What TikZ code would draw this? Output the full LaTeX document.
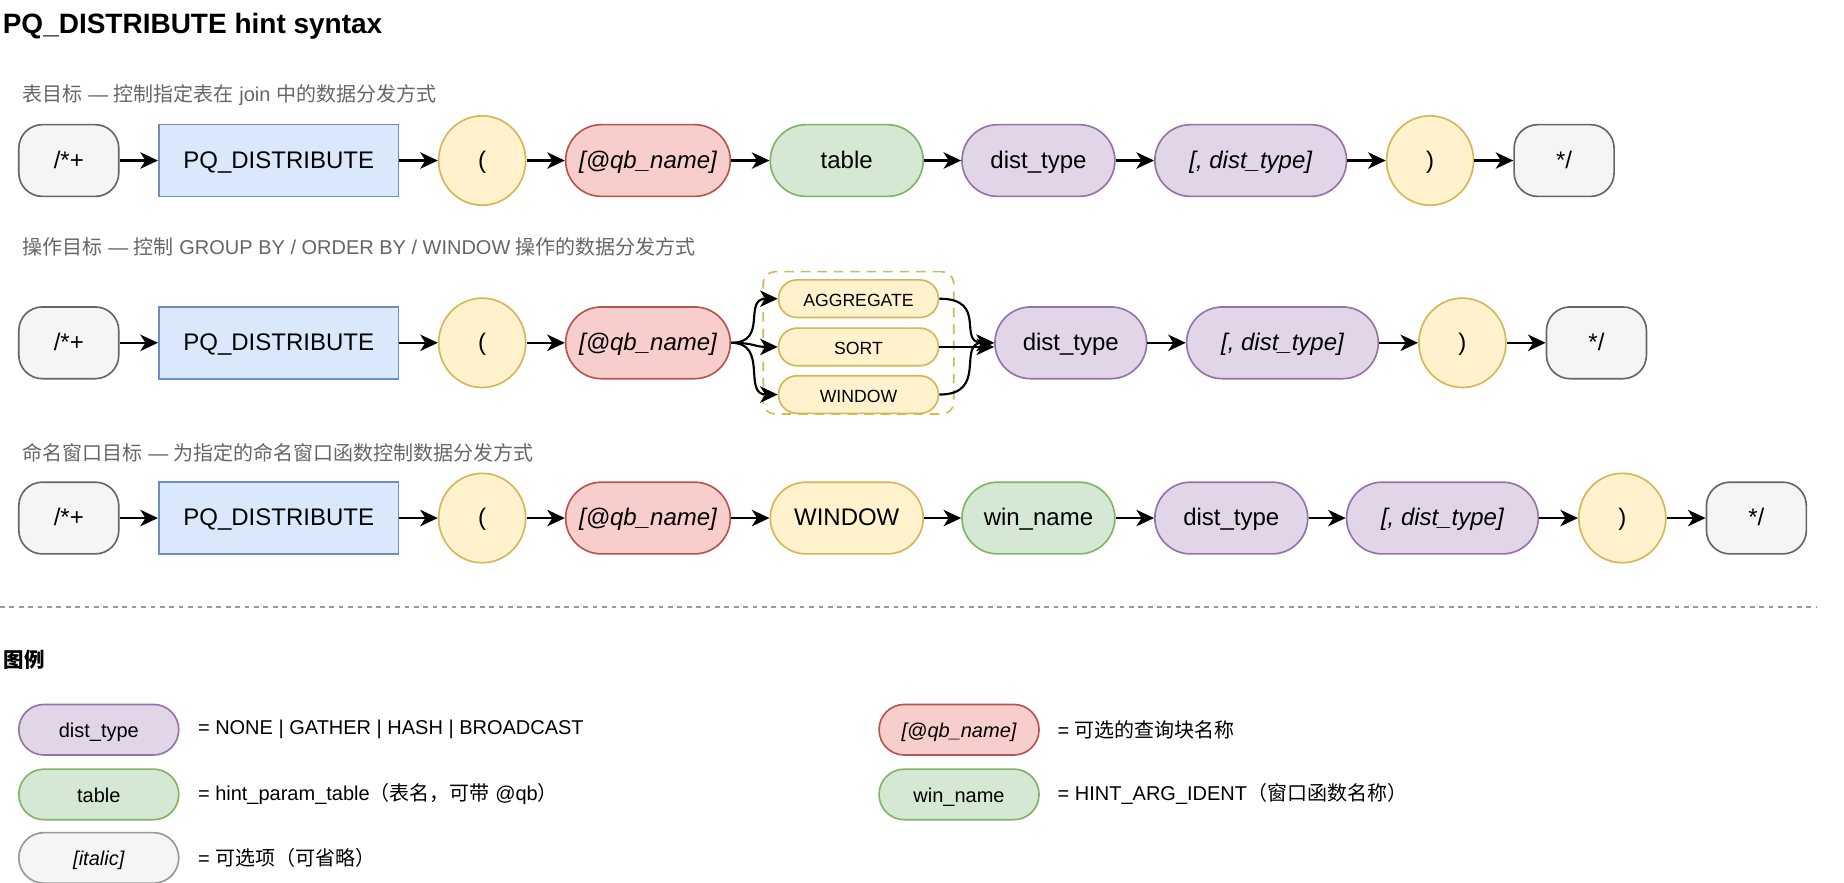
\documentclass[tikz,border=0pt]{standalone}
\usepackage{fontspec}
\setmainfont{Liberation Sans}
\newfontfamily\cjk{Noto Sans CJK SC}
\usetikzlibrary{arrows.meta,shapes.geometric}
\definecolor{grayF}{HTML}{F5F5F5}
\definecolor{grayS}{HTML}{666666}
\definecolor{lgrayS}{HTML}{999999}
\definecolor{blueF}{HTML}{DAE8FC}
\definecolor{blueS}{HTML}{6C8EBF}
\definecolor{yellowF}{HTML}{FFF2CC}
\definecolor{yellowS}{HTML}{D6B656}
\definecolor{redF}{HTML}{F8CECC}
\definecolor{redS}{HTML}{B85450}
\definecolor{greenF}{HTML}{D5E8D4}
\definecolor{greenS}{HTML}{82B366}
\definecolor{purpleF}{HTML}{E1D5E7}
\definecolor{purpleS}{HTML}{9673A6}
\definecolor{subgray}{HTML}{666666}
\definecolor{sepgray}{HTML}{999999}
\begin{document}
\begin{tikzpicture}[x=0.5pt,y=-0.5pt,
  box/.style={draw, line width=0.7pt, inner sep=0pt, minimum height=30.5pt, font=\fontsize{10.2}{12}\selectfont, text height=0.72em, text depth=0.05em},
  startbox/.style={box, fill=grayF, draw=grayS, rounded corners=10pt, minimum width=42.5pt},
  kwbox/.style={box, fill=blueF, draw=blueS, minimum width=102pt},
  paren/.style={ellipse, draw=yellowS, fill=yellowF, line width=0.7pt, minimum width=37pt, minimum height=38pt, inner sep=0pt, font=\fontsize{10.2}{12}\selectfont, text height=0.72em, text depth=0.05em},
  pill/.style={box, rounded corners=15.2pt},
  qbpill/.style={pill, fill=redF, draw=redS, minimum width=70pt, font=\fontsize{10.2}{12}\selectfont\itshape},
  greenpill/.style={pill, fill=greenF, draw=greenS, minimum width=65pt},
  purplepill/.style={pill, fill=purpleF, draw=purpleS, minimum width=65pt},
  optpill/.style={pill, fill=purpleF, draw=purpleS, minimum width=81.5pt, font=\fontsize{10.2}{12}\selectfont\itshape},
  yellowpill/.style={pill, fill=yellowF, draw=yellowS, minimum width=65pt},
  opbox/.style={draw=yellowS, fill=yellowF, line width=0.7pt, inner sep=0pt, minimum width=68pt, minimum height=16pt, rounded corners=7.9pt, font=\fontsize{7.5}{9}\selectfont, text height=0.72em, text depth=0.05em},
  groupbox/.style={draw=yellowS, dashed, dash pattern=on 4pt off 3pt, line width=0.7pt, rounded corners=5pt, minimum width=81pt, minimum height=60.5pt, inner sep=0pt},
  arr/.style={-{Stealth[length=7.5pt,width=7pt,inset=2.2pt]}, line width=0.9pt},
  subtitle/.style={anchor=west, inner sep=0pt, text=subgray, font=\fontsize{8.5}{10}\selectfont},
  legpill/.style={draw, line width=0.7pt, inner sep=0pt, minimum width=68pt, minimum height=21.5pt, rounded corners=10.7pt, font=\fontsize{8.5}{10}\selectfont, text height=0.72em, text depth=0.05em},
  leglabel/.style={anchor=west, inner sep=0pt, font=\fontsize{8.5}{10}\selectfont},
  sepline/.style={draw=sepgray, line width=0.6pt, dash pattern=on 2pt off 2pt}
]
\fill[white] (0,0) rectangle (1568,750);
\useasboundingbox (0,0) rectangle (1568,750);

% title
\node[anchor=west, inner sep=0pt, font=\bfseries\fontsize{11.9}{14}\selectfont] (title) at (2,22) {PQ\_DISTRIBUTE hint syntax};

% ---------- Row 1 ----------
\node[subtitle] (sub1) at (19,81) {{\cjk 表目标} — {\cjk 控制指定表在} join {\cjk 中的数据分发方式}};
\node[startbox] (s1) at (58.5,136.5) {/*+};
\node[kwbox] (p1) at (237,136.5) {PQ\_DISTRIBUTE};
\node[paren] (o1) at (410,136.5) {(};
\node[qbpill] (q1) at (551,136.5) {[@qb\_name]};
\node[greenpill] (t1) at (720,136.5) {table};
\node[purplepill] (d1) at (883,136.5) {dist\_type};
\node[optpill] (e1) at (1063.5,136.5) {[, dist\_type]};
\node[paren] (c1) at (1216,136.5) {)};
\node[startbox] (z1) at (1330,136.5) {*/};
\foreach \a/\b in {s1/p1,p1/o1,o1/q1,q1/t1,t1/d1,d1/e1,e1/c1,c1/z1}
  \draw[arr] (\a) -- (\b);

% ---------- Row 2 ----------
\node[subtitle] (sub2) at (19,210) {{\cjk 操作目标} — {\cjk 控制} GROUP BY / ORDER BY / WINDOW {\cjk 操作的数据分发方式}};
\node[startbox] (s2) at (58.5,291.5) {/*+};
\node[kwbox] (p2) at (237,291.5) {PQ\_DISTRIBUTE};
\node[paren] (o2) at (410,291.5) {(};
\node[qbpill] (q2) at (551,291.5) {[@qb\_name]};
\node[groupbox] (g2) at (730,291.5) {};
\node[opbox] (a2) at (730,254) {AGGREGATE};
\node[opbox] (b2) at (730,295) {SORT};
\node[opbox] (w2) at (730,335.5) {WINDOW};
\node[purplepill, minimum width=64.5pt] (d2) at (910.5,291.5) {dist\_type};
\node[optpill] (e2) at (1090.5,291.5) {[, dist\_type]};
\node[paren] (c2) at (1243.5,291.5) {)};
\node[startbox] (z2) at (1357.5,291.5) {*/};
\foreach \a/\b in {s2/p2,p2/o2,o2/q2,d2/e2,e2/c2,c2/z2}
  \draw[arr] (\a) -- (\b);
\draw[arr] (q2.east) .. controls +(32,0) and +(-30,0) .. (a2.west);
\draw[arr] (q2.east) .. controls +(20,0) and +(-20,0) .. (b2.west);
\draw[arr] (q2.east) .. controls +(32,0) and +(-30,0) .. (w2.west);
\draw[arr] (a2.east) .. controls +(42,0) and +(-32,0) .. (d2.west);
\draw[arr] (b2.east) -- (b2.east -| d2.west);
\draw[arr] (w2.east) .. controls +(42,0) and +(-32,0) .. (d2.west);

% ---------- Row 3 ----------
\node[subtitle] (sub3) at (19,385) {{\cjk 命名窗口目标} — {\cjk 为指定的命名窗口函数控制数据分发方式}};
\node[startbox] (s3) at (58.5,440.5) {/*+};
\node[kwbox] (p3) at (237,440.5) {PQ\_DISTRIBUTE};
\node[paren] (o3) at (410,440.5) {(};
\node[qbpill] (q3) at (551,440.5) {[@qb\_name]};
\node[yellowpill] (w3) at (720,440.5) {WINDOW};
\node[greenpill] (n3) at (883,440.5) {win\_name};
\node[purplepill] (d3) at (1047,440.5) {dist\_type};
\node[optpill] (e3) at (1226.5,440.5) {[, dist\_type]};
\node[paren] (c3) at (1379.5,440.5) {)};
\node[startbox] (z3) at (1493.5,440.5) {*/};
\foreach \a/\b in {s3/p3,p3/o3,o3/q3,q3/w3,w3/n3,n3/d3,d3/e3,e3/c3,c3/z3}
  \draw[arr] (\a) -- (\b);

% ---------- separator ----------
\coordinate (sepL) at (0,516);
\coordinate (sepR) at (1545,516);
\draw[sepline] (sepL) -- (sepR);

% ---------- legend ----------
\node[anchor=west, inner sep=0pt, font=\cjk\bfseries\fontsize{8.7}{10}\selectfont] (legtitle) at (3,561) {图例};
\node[legpill, fill=purpleF, draw=purpleS] (L1) at (84,620.5) {dist\_type};
\node[leglabel] (L1t) at (168,620.5) {= NONE | GATHER | HASH | BROADCAST};
\node[legpill, fill=greenF, draw=greenS] (L2) at (84,675.5) {table};
\node[leglabel] (L2t) at (168,675.5) {= hint\_param\_table{\cjk （表名，可带} @qb{\cjk ）}};
\node[legpill, fill=grayF, draw=lgrayS, font=\fontsize{8.5}{10}\selectfont\itshape] (L3) at (84,729.5) {[italic]};
\node[leglabel] (L3t) at (168,729.5) {= {\cjk 可选项（可省略）}};
\node[legpill, fill=redF, draw=redS, font=\fontsize{8.5}{10}\selectfont\itshape] (L4) at (815.5,620.5) {[@qb\_name]};
\node[leglabel] (L4t) at (899,620.5) {= {\cjk 可选的查询块名称}};
\node[legpill, fill=greenF, draw=greenS] (L5) at (815.5,675.5) {win\_name};
\node[leglabel] (L5t) at (899,675.5) {= HINT\_ARG\_IDENT{\cjk （窗口函数名称）}};
\end{tikzpicture}
\end{document}
